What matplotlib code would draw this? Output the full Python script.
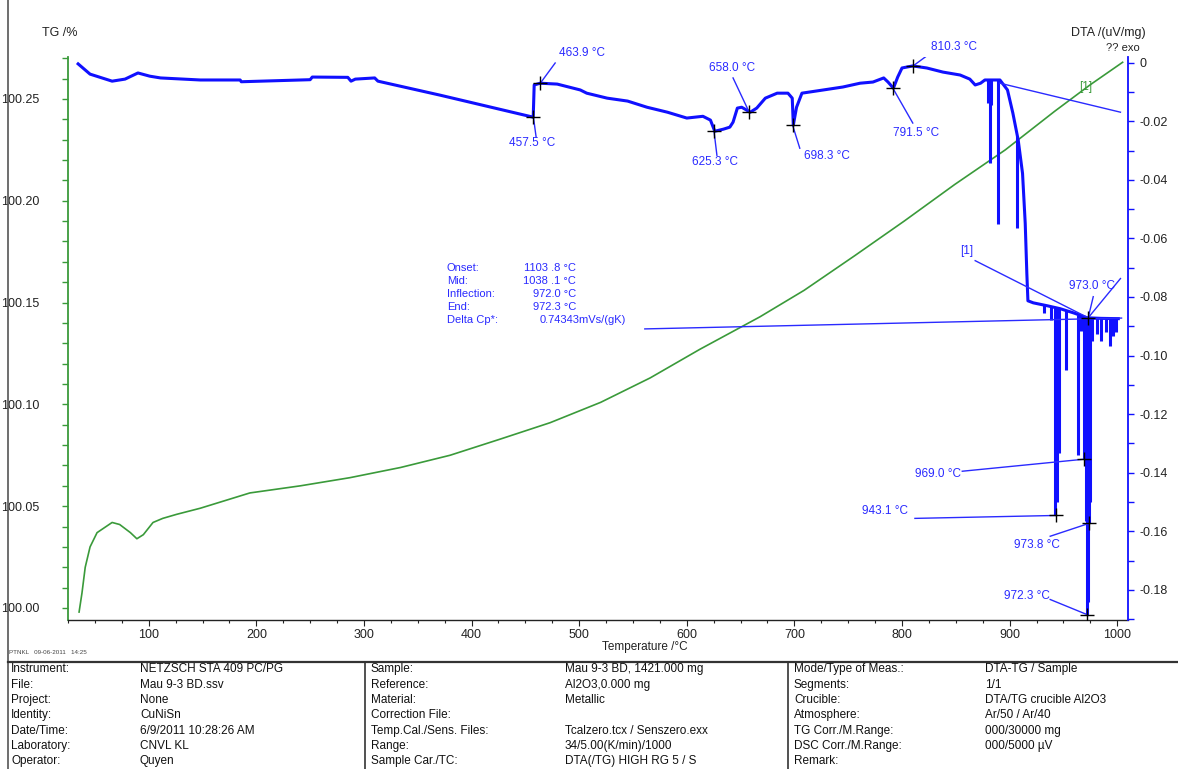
import matplotlib
matplotlib.use("Agg")
import matplotlib.pyplot as plt
from matplotlib.lines import Line2D
from matplotlib.ticker import MultipleLocator, FormatStrFormatter, FuncFormatter
import numpy as np

plt.rcParams['font.family'] = ['Liberation Sans', 'DejaVu Sans']
plt.rcParams['axes.unicode_minus'] = False

# ---------------- data ----------------
# TG curve (green, left axis)
tg_T = [35.3, 38, 41, 45.5, 52, 66, 73, 83, 89, 95, 104, 113, 126, 148, 194, 241, 287, 334,
        380, 427, 473, 520, 566, 612, 668, 709, 756, 802, 849, 896, 942, 975, 1005]
tg_val = [99.998, 100.0074, 100.020, 100.030, 100.037, 100.042, 100.041, 100.037, 100.034,
          100.036, 100.042, 100.044, 100.046, 100.049, 100.0565, 100.060, 100.064, 100.069,
          100.075, 100.083, 100.091, 100.101, 100.113, 100.127, 100.143, 100.156, 100.173,
          100.190, 100.208, 100.225, 100.244, 100.257, 100.268]

# DTA curve (blue, right axis)
dta_T = [34.4, 45.5, 66, 78, 90, 101, 111, 148, 185, 186, 250, 252, 285, 288, 292, 310, 313,
         371, 457.3, 458.2, 463.8, 479.6, 501, 507, 526, 545, 563, 582, 600, 615, 622, 626,
         634, 640, 643, 647, 651, 659, 665, 673, 684, 694, 698, 699, 702, 707, 727, 745, 761,
         773, 783, 787, 792, 796, 800, 810, 823, 838, 854, 863, 868, 873, 877, 891, 898, 903,
         908, 912, 914.5, 916, 917, 922, 935, 947, 960, 972, 985, 1001]
dta_val = [-0.0004, -0.0039, -0.0063, -0.0056, -0.0035, -0.0046, -0.0052, -0.0059, -0.0059,
           -0.0065, -0.0058, -0.0049, -0.0050, -0.0063, -0.0056, -0.0052, -0.0063,
           -0.0111, -0.0186, -0.0076, -0.0070, -0.0073, -0.0093, -0.0104, -0.0121, -0.0131,
           -0.0152, -0.0169, -0.0189, -0.0183, -0.0196, -0.0234, -0.0227, -0.0220, -0.0203,
           -0.0155, -0.0152, -0.0169, -0.0155, -0.0121, -0.0104, -0.0104, -0.0121, -0.0213,
           -0.0152, -0.0104, -0.0093, -0.0083, -0.0070, -0.0066, -0.0052, -0.0066, -0.0087,
           -0.0049, -0.0018, -0.0011, -0.0018, -0.0032, -0.0042, -0.0056, -0.0076, -0.0070,
           -0.0059, -0.0059, -0.0093, -0.0172, -0.0265, -0.0378, -0.0549, -0.0720, -0.0813,
           -0.0820, -0.0830, -0.0840, -0.0855, -0.0871, -0.0873, -0.0874]

# downward spikes of the DTA signal
spike_T = [880, 881.5, 883, 889, 907, 932, 938, 942.5, 944, 946, 952, 964, 966, 969, 971,
           972.3, 973, 973.8, 975, 977, 981, 985, 990, 993, 996, 999]
spike_top = [-0.0059, -0.0059, -0.0059, -0.0059, -0.0250, -0.0828, -0.0833, -0.0836,
             -0.0837, -0.0838, -0.0845, -0.0860, -0.0862, -0.0866, -0.0868, -0.0870,
             -0.0871, -0.0871, -0.0872, -0.0872, -0.0873, -0.0873, -0.0874, -0.0874,
             -0.0874, -0.0874]
spike_bot = [-0.0138, -0.0344, -0.0145, -0.0550, -0.0563, -0.0855, -0.0880, -0.1546,
             -0.1500, -0.1334, -0.1050, -0.1340, -0.0915, -0.1354, -0.1565, -0.1885,
             -0.1840, -0.1573, -0.1500, -0.0950, -0.0925, -0.0950, -0.0920, -0.0967,
             -0.0933, -0.0920]

# marked points: (temperature, DTA value)
mark_T = [457.5, 463.9, 625.3, 658.0, 698.3, 791.5, 810.3, 973.0, 969.0, 943.1, 973.8, 972.3]
mark_val = [-0.0186, -0.0070, -0.0234, -0.0169, -0.0213, -0.0087, -0.0011, -0.0871,
            -0.1354, -0.1546, -0.1573, -0.1885]

# label text, text position, leader end
lab_text = ["457.5 °C", "463.9 °C", "625.3 °C", "658.0 °C", "698.3 °C", "791.5 °C",
            "810.3 °C", "973.0 °C", "969.0 °C", "943.1 °C", "973.8 °C", "972.3 °C"]
lab_T = [456, 503, 626.4, 642, 730.5, 813, 848.5, 977, 833, 784, 925.6, 916]
lab_val = [-0.0275, 0.0033, -0.0340, -0.0018, -0.0320, -0.0241, 0.0054, -0.0762, -0.1405,
           -0.1532, -0.1648, -0.1820]
lead_T = [460, 477.7, 628, 643, 705, 810, 824, 977.7, 856, 812, 937.7, 937.7]
lead_val = [-0.0254, -0.0001, -0.0316, -0.0052, -0.0292, -0.0206, 0.0026, -0.0799, -0.1395,
            -0.1556, -0.1617, -0.1833]

# thin construction lines (T1, v1, T2, v2)
tangent_line = [891, -0.0070, 1003, -0.0169]
cp_line = [561, -0.0909, 1004, -0.0872]
glass_leader = [868, -0.0676, 973.0, -0.0871]
extra_leader = [973.0, -0.0871, 1003, -0.0737]

result_names = ["Onset:", "Mid:", "Inflection:", "End:", "Delta Cp*:"]
result_values = ["1103 .8 °C", "1038 .1 °C", "972.0 °C", "972.3 °C", "0.74343mVs/(gK)"]

info_col1 = [("Instrument:", "NETZSCH STA 409 PC/PG"), ("File:", "Mau 9-3 BD.ssv"),
             ("Project:", "None"), ("Identity:", "CuNiSn"),
             ("Date/Time:", "6/9/2011 10:28:26 AM"), ("Laboratory:", "CNVL KL"),
             ("Operator:", "Quyen")]
info_col2 = [("Sample:", "Mau 9-3 BD, 1421.000 mg"), ("Reference:", "Al2O3,0.000 mg"),
             ("Material:", "Metallic"), ("Correction File:", ""),
             ("Temp.Cal./Sens. Files:", "Tcalzero.tcx / Senszero.exx"),
             ("Range:", "34/5.00(K/min)/1000"), ("Sample Car./TC:", "DTA(/TG) HIGH RG 5 / S")]
info_col3 = [("Mode/Type of Meas.:", "DTA-TG / Sample"), ("Segments:", "1/1"),
             ("Crucible:", "DTA/TG crucible Al2O3"), ("Atmosphere:", "Ar/50 / Ar/40"),
             ("TG Corr./M.Range:", "000/30000 mg"), ("DSC Corr./M.Range:", "000/5000 µV"),
             ("Remark:", "")]

# ---------------- figure ----------------
W, H = 1178, 769
fig = plt.figure(figsize=(W / 100, H / 100), dpi=100)
fig.patch.set_facecolor('white')

def fx(px):
    return px / W

def fy(py):
    return 1 - py / H

GREEN = '#3a9a3a'
BLUE = '#1010ff'
LBLUE = '#2a2aff'

ax = fig.add_axes([fx(68), fy(620), fx(1128) - fx(68), fy(57) - fy(620)])
ax.set_xlim(25, 1010)
ax.set_ylim(99.9941, 100.2706)
ax.set_facecolor('none')
for s in ['top', 'right']:
    ax.spines[s].set_visible(False)
ax.spines['left'].set_color(GREEN)
ax.spines['left'].set_linewidth(1.3)
ax.spines['bottom'].set_color('#222222')
ax.spines['bottom'].set_linewidth(1.0)

ax.xaxis.set_major_locator(MultipleLocator(100))
ax.xaxis.set_minor_locator(MultipleLocator(25))
ax.yaxis.set_major_locator(MultipleLocator(0.05))
ax.yaxis.set_minor_locator(MultipleLocator(0.01))
ax.yaxis.set_major_formatter(FormatStrFormatter('%.2f'))
ax.xaxis.set_major_formatter(FuncFormatter(lambda v, p: '%d' % v if v >= 100 else ''))
ax.tick_params(axis='y', which='both', colors=GREEN, labelcolor='#222222', length=4,
               width=1, labelsize=9, pad=16.5, direction='out')
ax.tick_params(axis='x', which='major', colors='#222222', length=4, width=0.8,
               labelsize=9, pad=2.5, direction='out')
ax.tick_params(axis='x', which='minor', colors='#222222', length=2.5, width=0.8,
               direction='out')

ax.plot(tg_T, tg_val, color=GREEN, lw=1.2, zorder=3)

ax2 = ax.twinx()
ax2.set_ylim(-0.1903, 0.00195)
ax2.set_xlim(25, 1010)
for s in ['top', 'left', 'bottom']:
    ax2.spines[s].set_visible(False)
ax2.spines['right'].set_color(BLUE)
ax2.spines['right'].set_linewidth(1.3)
ax2.yaxis.set_major_locator(MultipleLocator(0.02))
ax2.yaxis.set_minor_locator(MultipleLocator(0.01))
ax2.yaxis.set_major_formatter(FuncFormatter(lambda v, p: '0' if abs(v) < 1e-9 else '%.2f' % v))
ax2.tick_params(axis='y', which='both', colors=BLUE, labelcolor='#222222', length=4,
                width=1, labelsize=9, pad=4.5, direction='out')

ax2.plot(dta_T, dta_val, color=BLUE, lw=2.2, zorder=4, solid_joinstyle='round')
ax2.vlines(spike_T, spike_top, spike_bot, color=BLUE, lw=2.2, zorder=4)

for (x1, y1, x2, y2) in [tangent_line, cp_line, glass_leader, extra_leader]:
    ax2.plot([x1, x2], [y1, y2], color=LBLUE, lw=1.0, zorder=5)

for t, v, lt, lv, tx, ty, txt in zip(mark_T, mark_val, lead_T, lead_val, lab_T, lab_val, lab_text):
    ax2.plot([t, lt], [v, lv], color=LBLUE, lw=1.0, zorder=5)
    ax2.text(tx, ty, txt, color=LBLUE, fontsize=8.5, ha='center', va='center', zorder=6)
ax2.plot(mark_T, mark_val, linestyle='none', marker='+', markersize=10,
         markeredgewidth=1.0, color='black', zorder=7)

ax2.text(971, -0.0083, "[1]", color=GREEN, fontsize=8.5, ha='center', va='center', zorder=6)
ax2.text(860, -0.0642, "[1]", color=LBLUE, fontsize=8.5, ha='center', va='center', zorder=6)

# result block (placed in figure pixels)
row_px = [268, 281, 294, 307, 320]
for i, (nm, val) in enumerate(zip(result_names, result_values)):
    fig.text(fx(447), fy(row_px[i]), nm, color=LBLUE, fontsize=8, ha='left', va='center')
    if i < 4:
        fig.text(fx(576), fy(row_px[i]), val, color=LBLUE, fontsize=8, ha='right', va='center')
    else:
        fig.text(fx(540), fy(row_px[i]), val, color=LBLUE, fontsize=8, ha='left', va='center')

# axis titles
fig.text(fx(60), fy(33), "TG /%", fontsize=9, ha='center', va='center', color='#222222')
fig.text(fx(1108), fy(33), "DTA /(uV/mg)", fontsize=9, ha='center', va='center', color='#222222')
fig.text(fx(1123), fy(48), "?? exo", fontsize=8, ha='center', va='center', color='#222222')
fig.text(fx(645), fy(647), "Temperature /°C", fontsize=8.5, ha='center', va='center',
         color='#222222')
fig.text(fx(9), fy(653), "PTNKL   09-06-2011   14:25", fontsize=4.5, ha='left', va='center',
         color='#444444')

# frame & table
fig.add_artist(Line2D([fx(8), fx(8)], [0, 1], color='#555555', lw=1.2, transform=fig.transFigure))
fig.add_artist(Line2D([fx(8), 1], [fy(662), fy(662)], color='#333333', lw=1.6,
                      transform=fig.transFigure))
for xv in [365, 788]:
    fig.add_artist(Line2D([fx(xv), fx(xv)], [fy(662), 0], color='#333333', lw=1.2,
                          transform=fig.transFigure))

row_y = [669, 685, 700, 715, 731, 746, 761]
cols = [(info_col1, 11, 140), (info_col2, 371, 565), (info_col3, 794, 985)]
for data, xl, xv in cols:
    for (k, v), yy in zip(data, row_y):
        fig.text(fx(xl), fy(yy), k, fontsize=8.5, ha='left', va='center', color='#111111')
        fig.text(fx(xv), fy(yy), v, fontsize=8.5, ha='left', va='center', color='#111111')

fig.savefig("out.png", dpi=100, facecolor='white')
